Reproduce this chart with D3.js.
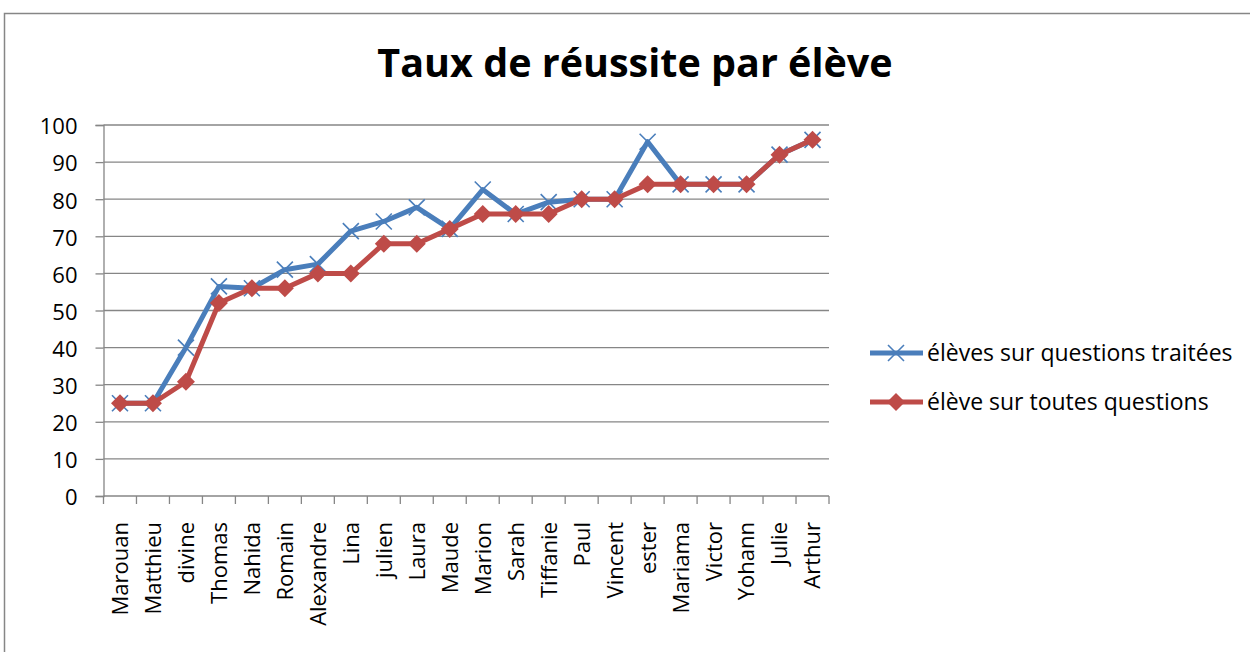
<!DOCTYPE html>
<html>
<head>
<meta charset="utf-8">
<script src="https://cdn.jsdelivr.net/npm/d3@7"></script>
<style>
  html, body { margin: 0; padding: 0; background: #fff; }
  svg { display: block; }
  text { font-family: "Open Sans", Lato, sans-serif; fill: #000; }
</style>
</head>
<body>
<svg id="chart" width="1250" height="652"></svg>
<script>
// Students, ordered by success rate
const students = ["Marouan", "Matthieu", "divine", "Thomas", "Nahida", "Romain", "Alexandre", "Lina",
  "julien", "Laura", "Maude", "Marion", "Sarah", "Tiffanie", "Paul", "Vincent", "ester",
  "Mariama", "Victor", "Yohann", "Julie", "Arthur"];

// Success rate (%) computed on the questions each student answered
const rateAnswered = [25, 25, 40, 56.5, 56, 61, 62.5, 71.4, 74, 77.8, 72, 82.6, 76, 79.2,
  80, 80, 95.5, 84, 84, 84, 92, 96];

// Success rate (%) computed on all questions
const rateAll = [25, 25, 30.8, 52, 56, 56, 60, 60, 68, 68, 72, 76, 76, 76,
  80, 80, 84, 84, 84, 84, 92, 96];

const seriesNames = ["élèves sur questions traitées", "élève sur toutes questions"];
const yTicks = [0, 10, 20, 30, 40, 50, 60, 70, 80, 90, 100];
const chartTitle = "Taux de réussite par élève";

const svg = d3.select("#chart");
const gridColor = "#868686";
const blue = "#4A7EBB";
const red = "#BE4B48";

const plot = { left: 103.5, right: 829, top: 125, bottom: 496 };

// Outer chart frame
svg.append("rect")
  .attr("x", 4.5).attr("y", 13.5)
  .attr("width", 1400).attr("height", 800)
  .attr("fill", "none").attr("stroke", gridColor).attr("stroke-width", 1.5);

svg.append("text")
  .attr("x", 635).attr("y", 77)
  .attr("text-anchor", "middle")
  .style("font-size", "39.5px").style("font-weight", "bold")
  .text(chartTitle);

const x = d3.scaleBand().domain(students).range([plot.left, plot.right]).padding(0);
const y = d3.scaleLinear().domain([0, 100]).range([plot.bottom, plot.top]);

// Horizontal gridlines
svg.append("g")
  .selectAll("line")
  .data(yTicks.filter(d => d > 0))
  .join("line")
  .attr("x1", plot.left).attr("x2", plot.right)
  .attr("y1", d => y(d)).attr("y2", d => y(d))
  .attr("stroke", gridColor).attr("stroke-width", 1.3);

// Y axis
const yAxis = svg.append("g")
  .attr("transform", `translate(${plot.left},0)`)
  .call(d3.axisLeft(y).tickValues(yTicks).tickSize(8).tickPadding(18));
yAxis.select(".domain").attr("stroke", gridColor).attr("stroke-width", 1.3);
yAxis.selectAll(".tick line").attr("stroke", gridColor).attr("stroke-width", 1.3);
yAxis.selectAll(".tick text")
  .attr("dy", "0.4em")
  .style("font-size", "22px").style("font-family", "'Open Sans', sans-serif").attr("fill", "#000");

// X axis with tick marks on category boundaries
const xAxisG = svg.append("g").attr("transform", `translate(0,${plot.bottom})`);
xAxisG.append("line")
  .attr("x1", plot.left).attr("x2", plot.right)
  .attr("stroke", gridColor).attr("stroke-width", 1.3);
const boundaries = students.map(d => x(d)).concat([plot.right]);
xAxisG.selectAll("line.tk")
  .data(boundaries)
  .join("line").attr("class", "tk")
  .attr("x1", d => d).attr("x2", d => d)
  .attr("y1", 0).attr("y2", 8)
  .attr("stroke", gridColor).attr("stroke-width", 1.3);
xAxisG.selectAll("text")
  .data(students)
  .join("text")
  .attr("transform", d => `translate(${x(d) + x.bandwidth() / 2},26) rotate(-90)`)
  .attr("text-anchor", "end")
  .attr("dy", "0.36em")
  .style("font-size", "22px")
  .text(d => d);

const cx = (d, i) => x(students[i]) + x.bandwidth() / 2;
const line = d3.line().x(cx).y(d => y(d));

function crossPath(s) {
  return `M${-s},${-s}L${s},${s}M${-s},${s}L${s},${-s}`;
}
function diamondPath(s) {
  return `M0,${-s}L${s},0L0,${s}L${-s},0Z`;
}

// Series 1: answered questions
svg.append("path")
  .datum(rateAnswered)
  .attr("d", line)
  .attr("fill", "none").attr("stroke", blue).attr("stroke-width", 5)
  .attr("stroke-linejoin", "round");
svg.append("g").selectAll("path")
  .data(rateAnswered)
  .join("path")
  .attr("transform", (d, i) => `translate(${cx(d, i)},${y(d)})`)
  .attr("d", crossPath(8))
  .attr("stroke", blue).attr("stroke-width", 1.6).attr("fill", "none");

// Series 2: all questions
svg.append("path")
  .datum(rateAll)
  .attr("d", line)
  .attr("fill", "none").attr("stroke", red).attr("stroke-width", 5)
  .attr("stroke-linejoin", "round");
svg.append("g").selectAll("path")
  .data(rateAll)
  .join("path")
  .attr("transform", (d, i) => `translate(${cx(d, i)},${y(d)})`)
  .attr("d", diamondPath(9))
  .attr("fill", red);

// Legend
const legend = svg.append("g");
const legendRows = [
  { name: seriesNames[0], color: blue, marker: "cross", y: 353 },
  { name: seriesNames[1], color: red, marker: "diamond", y: 402 }
];
legendRows.forEach(r => {
  legend.append("line")
    .attr("x1", 870).attr("x2", 923).attr("y1", r.y).attr("y2", r.y)
    .attr("stroke", r.color).attr("stroke-width", 5);
  legend.append("path")
    .attr("transform", `translate(896,${r.y})`)
    .attr("d", r.marker === "cross" ? crossPath(8) : diamondPath(9))
    .attr("stroke", r.marker === "cross" ? r.color : "none")
    .attr("stroke-width", 1.6)
    .attr("fill", r.marker === "cross" ? "none" : r.color);
  legend.append("text")
    .attr("x", 927).attr("y", r.y).attr("dy", "0.36em")
    .style("font-size", "23px")
    .text(r.name);
});
</script>
</body>
</html>
